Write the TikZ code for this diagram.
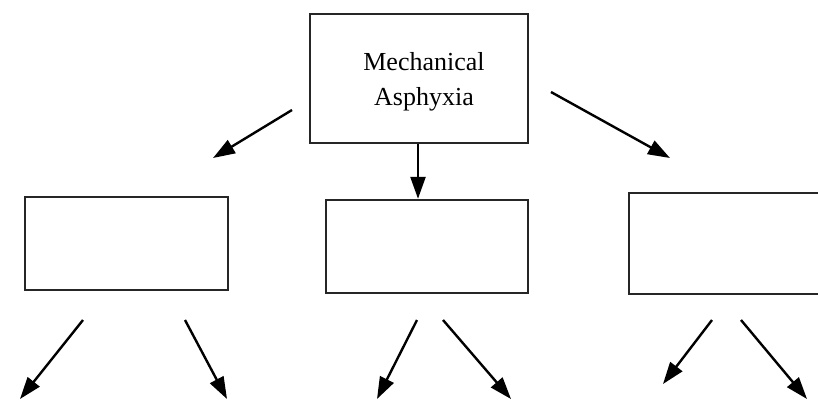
\documentclass[tikz,border=0pt]{standalone}
\usepackage{fontspec}
\setmainfont{Liberation Serif}
\usetikzlibrary{arrows.meta}
\begin{document}
\begin{tikzpicture}[x=1pt,y=-1pt,
  box/.style={draw=black!85,line width=2.4pt,rectangle,inner sep=0pt},
  arr/.style={line width=2.4pt,-{Triangle[length=22pt,width=15pt]}}]
\useasboundingbox (0,0) rectangle (818,400);
\clip (0,0) rectangle (818,400);
\node[box,minimum width=218pt,minimum height=129pt] (top) at (419,78.5) {};
\node[align=center,font=\fontsize{26}{35}\selectfont] (toptext) at (424,82) {Mechanical\\Asphyxia};
\node[box,minimum width=203pt,minimum height=93pt] (left) at (126.5,243.5) {};
\node[box,minimum width=202pt,minimum height=93pt] (mid) at (427,246.5) {};
\node[box,minimum width=220pt,minimum height=101pt] (right) at (739,243.5) {};
% free ends
\coordinate (tl) at (292,110);
\coordinate (tle) at (213,158);
\coordinate (trs) at (551,92);
\coordinate (tre) at (670,158);
\coordinate (a1s) at (83,320);  \coordinate (a1e) at (20,399);
\coordinate (a2s) at (185,320); \coordinate (a2e) at (227,399);
\coordinate (a3s) at (417,320); \coordinate (a3e) at (377,399);
\coordinate (a4s) at (443,320); \coordinate (a4e) at (511,399);
\coordinate (a5s) at (712,320); \coordinate (a5e) at (663,384);
\coordinate (a6s) at (741,320); \coordinate (a6e) at (807,399);
\draw[arr] (tl) -- (tle);
\draw[arr] (top.south -| 418,0) -- (mid.north -| 418,0);
\draw[arr] (trs) -- (tre);
\draw[arr] (a1s) -- (a1e);
\draw[arr] (a2s) -- (a2e);
\draw[arr] (a3s) -- (a3e);
\draw[arr] (a4s) -- (a4e);
\draw[arr] (a5s) -- (a5e);
\draw[arr] (a6s) -- (a6e);
\end{tikzpicture}
\end{document}
